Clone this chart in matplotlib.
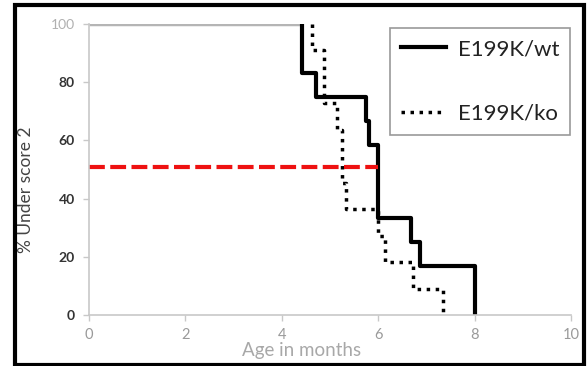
import numpy as np
import matplotlib.pyplot as plt
from matplotlib.patches import Rectangle

plt.rcParams['font.family'] = ['Lato', 'DejaVu Sans']

# event times (months) and survival after each event (%)
wt_times = [4.42, 4.72, 5.75, 5.80, 6.00, 6.68, 6.87, 8.00]
wt_surv = [83.3, 75.0, 66.7, 58.3, 33.3, 25.0, 16.7, 0.0]
ko_times = [4.63, 4.88, 4.88, 5.14, 5.24, 5.24, 5.33, 6.00, 6.14, 6.72, 7.35]
ko_surv = [90.9, 81.8, 72.7, 63.6, 54.5, 45.5, 36.4, 27.3, 18.2, 9.1, 0.0]
median_y = 51
median_x = 6.0

x_ticks = [0, 2, 4, 6, 8, 10]
y_ticks = [0, 20, 40, 60, 80, 100]

fig = plt.figure(figsize=(5.87, 3.66), dpi=100)
ax = fig.add_axes([0.1516, 0.1393, 0.8211, 0.7951])

# flat start at 100 drawn grey like in the original
ax.plot([0, wt_times[0]], [100, 100], color='#b5b5b5', lw=2.5, solid_capstyle='butt')

wt_x = [wt_times[0]] + wt_times
wt_y = [100] + wt_surv
ax.step(wt_x, wt_y, where='post', color='black', lw=3, label='E199K/wt')

ko_x = [ko_times[0]] + ko_times
ko_y = [100] + ko_surv
ax.step(ko_x, ko_y, where='post', color='black', lw=2.5, ls=(0, (1, 1.6)),
        label='E199K/ko')

ax.plot([0, median_x], [median_y, median_y], color='#ee1111', lw=3,
        ls=(0, (3.8, 1.3)))

ax.set_xlim(0, 10)
ax.set_ylim(0, 100)
ax.set_xticks(x_ticks)
ax.set_yticks(y_ticks)
for s in ['top', 'right']:
    ax.spines[s].set_visible(False)
for s in ['left', 'bottom']:
    ax.spines[s].set_color('#c8c8c8')
    ax.spines[s].set_linewidth(1.2)
ax.tick_params(axis='both', colors='#c8c8c8', length=4, width=1)
ax.tick_params(axis='x', labelcolor='#9a9a9a', labelsize=10.5, pad=5)
ax.tick_params(axis='y', labelcolor='#333333', labelsize=10, pad=6)
for lab in ax.get_yticklabels():
    lab.set_fontweight('bold')
ax.get_yticklabels()[-1].set_color('#b0b0b0')
ax.get_yticklabels()[-1].set_fontweight('normal')

ax.set_xlabel('Age in months', color='#a8a8a8', fontsize=13.5)
ax.xaxis.set_label_coords(0.44, -0.093)
ax.set_ylabel('% Under score 2', color='#444444', fontsize=12.5)
ax.yaxis.set_label_coords(-0.114, 0.43)

leg = ax.legend(loc='upper left', bbox_to_anchor=(0.6245, 0.986), borderaxespad=0,
                fontsize=16, handlelength=2.0, handletextpad=0.55,
                labelspacing=2.0, borderpad=0.5,
                fancybox=False, framealpha=1, edgecolor='#999999')
leg.get_frame().set_linewidth(1.2)
for t in leg.get_texts():
    t.set_color('#222222')

# thick outer frame
fig.patches.append(Rectangle((15 / 587, 1 / 366), 569 / 587, 360 / 366,
                             transform=fig.transFigure, fill=False,
                             edgecolor='black', lw=3))

fig.savefig('out.png', dpi=100)
